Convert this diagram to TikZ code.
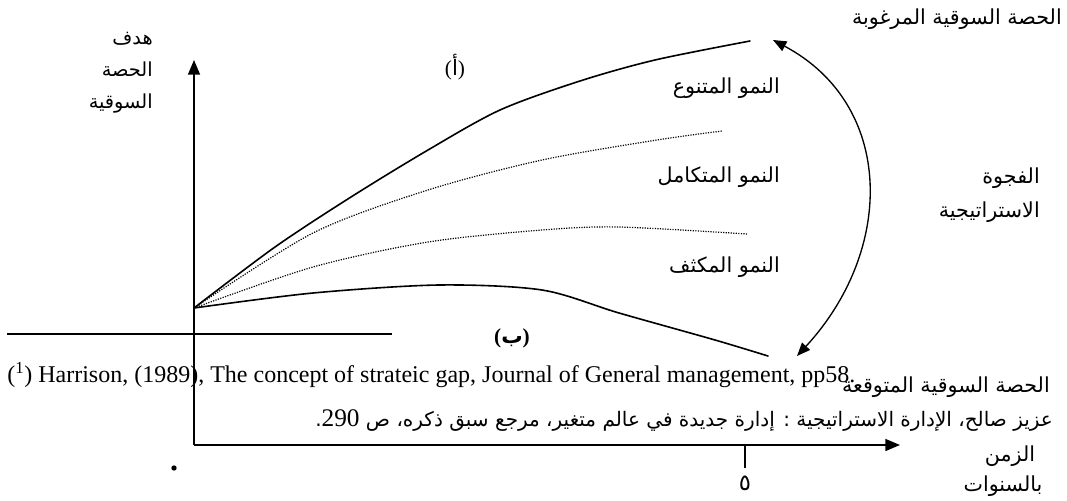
\documentclass[tikz,border=0pt]{standalone}
\usepackage{fontspec}
\setmainfont{Liberation Serif}
\newfontfamily\arabicfont[Script=Arabic]{DejaVu Sans}
\TeXXeTstate=1
\usetikzlibrary{positioning, arrows.meta}

\tikzset{
    axis/.style={-{Triangle[length=11pt, width=9pt]}, line width=1.1pt},
    growth/.style={line width=1.2pt, line cap=round},
    dotline/.style={densely dotted, line width=0.9pt},
    gaparrow/.style={{Triangle[length=10pt, width=8pt]}-{Triangle[length=10pt, width=8pt]}, line width=1pt},
    arlbl/.style={font=\arabicfont\fontsize{15.5}{18}\selectfont, inner sep=0pt},
    letter/.style={font=\fontsize{16}{18}\selectfont, inner sep=0pt},
}

\begin{document}
\begin{tikzpicture}[x=0.75pt, y=-0.75pt]
    \useasboundingbox (0,0) rectangle (1067,500);

    % Axes
    \coordinate (orig) at (194,445);
    \coordinate (ytip) at (194,60);
    \coordinate (xtip) at (900,445);
    \draw[axis] (orig) -- (ytip);
    \draw[axis] (orig) -- (xtip);

    % Axis labels
    \node[arlbl, anchor=east, align=right, font=\arabicfont\fontsize{14.5}{18}\selectfont] (ylabel) at (153,73)
        {\beginR هدف\endR\\[6pt] \beginR الحصة\endR\\[6pt] \beginR السوقية\endR};
    \node[arlbl] (xlabel) at (1010,456) {\beginR الزمن\endR};
    \node[arlbl] (xunit) at (1003,486) {\beginR بالسنوات\endR};

    % Year 5 tick
    \coordinate (tick) at (745,445);
    \coordinate (tickend) at (745,468);
    \draw[line width=1pt] (tick) -- (tickend);
    \node[arlbl, font=\arabicfont\fontsize{17}{19}\selectfont] (five) at (745,483) {٥};
    \fill (174,468) circle (2pt);

    % Growth curves
    \coordinate (start) at (194,308);
    \draw[growth] plot[smooth] coordinates
        {(start) (275,247) (351,197) (428,150) (500,110) (580,81) (655,60) (750,41)};
    \draw[dotline] plot[smooth] coordinates
        {(start) (313,233) (428,190) (542,160) (657,140) (722,131)};
    \draw[dotline] plot[smooth] coordinates
        {(start) (313,267) (428,242) (542,230) (619,227) (747,234)};
    \draw[growth] plot[smooth] coordinates
        {(start) (313,293) (439,285) (542,290) (619,313) (715,340) (768,356)};

    \node[letter] (pa) at (455,67) {({\arabicfont أ})};
    \node[letter, font=\bfseries\fontsize{16}{18}\selectfont] (pb) at (512,338) {({\arabicfont ب})};

    % Growth labels
    \node[arlbl, anchor=east] (g1) at (780,88) {\beginR النمو المتنوع\endR};
    \node[arlbl, anchor=east] (g2) at (780,177) {\beginR النمو المتكامل\endR};
    \node[arlbl, anchor=east] (g3) at (780,267) {\beginR النمو المكثف\endR};

    % Strategic gap
    \coordinate (gaptop) at (773,40);
    \coordinate (gapbot) at (797,356);
    \draw[gaparrow] (gaptop) .. controls (895,105) and (895,250) .. (gapbot);
    \node[arlbl, anchor=east] (gap1) at (1040,178) {\beginR الفجوة\endR};
    \node[arlbl, anchor=east] (gap2) at (1040,212) {\beginR الاستراتيجية\endR};
    \node[arlbl, anchor=east] (want) at (1062,19) {\beginR الحصة السوقية المرغوبة\endR};
    \node[arlbl, anchor=east] (expect) at (1050,387) {\beginR الحصة السوقية المتوقعة\endR};

    % Footnotes
    \coordinate (fnl) at (7,334);
    \coordinate (fnr) at (392,334);
    \draw[line width=1.2pt] (fnl) -- (fnr);
    \node[anchor=base west, inner sep=0pt, font=\fontsize{18}{20}\selectfont] (fn1) at (7,382)
        {(\textsuperscript{1}) Harrison, (1989), The concept of strateic gap, Journal of General management, pp58.};
    \node[arlbl, anchor=east, font=\arabicfont\fontsize{15}{17}\selectfont] (fn2) at (1053,421)
        {\beginR عزيز صالح، الإدارة الاستراتيجية : إدارة جديدة في عالم متغير، مرجع سبق ذكره، ص \beginL{\rmfamily\fontsize{19}{21}\selectfont 290}\endL.\endR};

\end{tikzpicture}
\end{document}
